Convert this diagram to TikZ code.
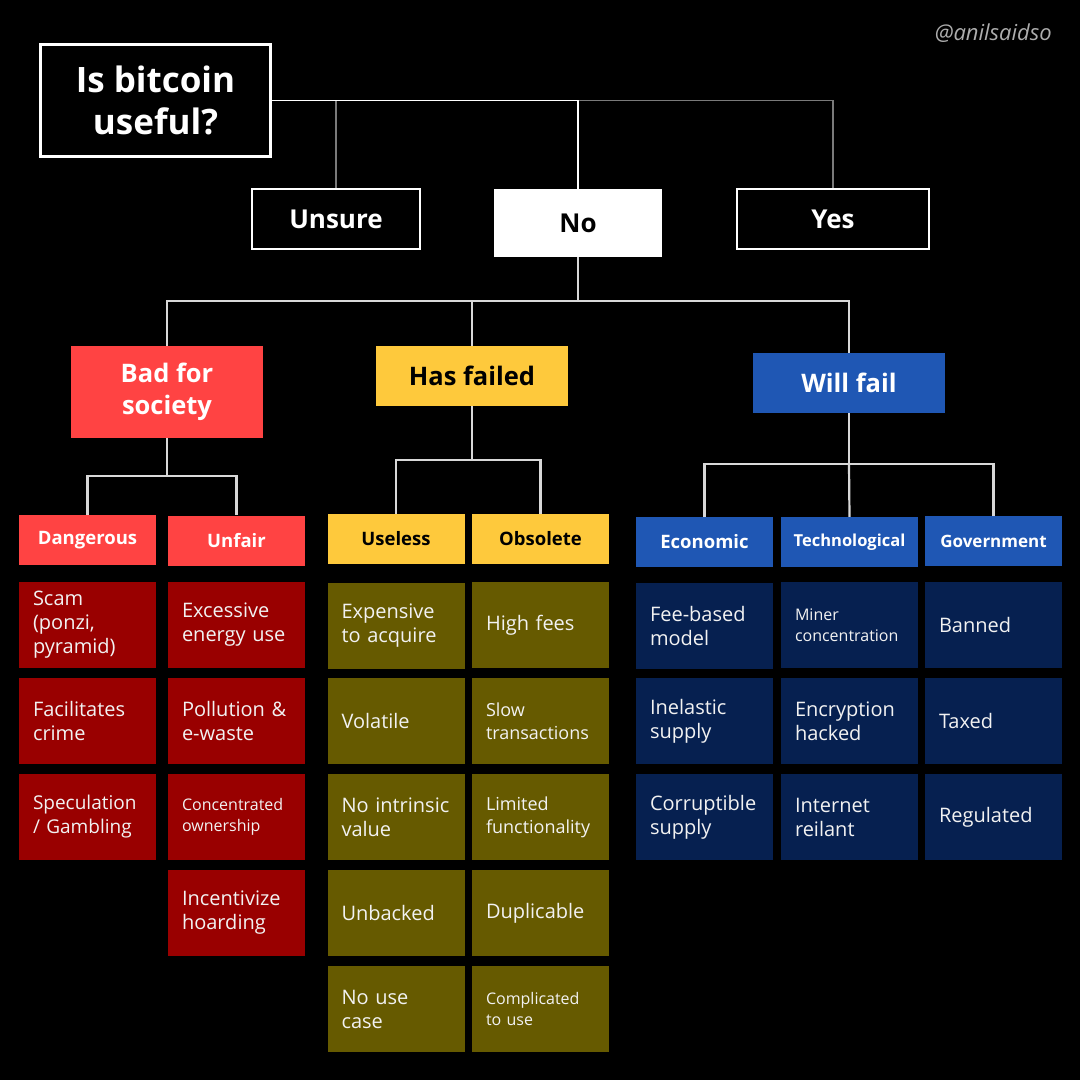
\documentclass[tikz,border=0pt]{standalone}
\usepackage{fontspec}
\setmainfont{Open Sans}
\definecolor{bred}{HTML}{FF4343}
\definecolor{dred}{HTML}{990000}
\definecolor{byel}{HTML}{FEC93C}
\definecolor{oliv}{HTML}{665A00}
\definecolor{bblue}{HTML}{1F57B4}
\definecolor{navy}{HTML}{062050}
\definecolor{tgray}{HTML}{7A7A7A}
\definecolor{lgray}{HTML}{D8D8D8}
\begin{document}
\begin{tikzpicture}[x=1pt,y=-1pt,
  every node/.style={inner sep=0pt},
  ans/.style={draw=white, line width=1.3pt, fill=black, text=white, font=\fontsize{26}{30}\selectfont\bfseries, minimum height=60pt},
  cat/.style={minimum width=192pt, font=\fontsize{25.5}{32}\selectfont\bfseries, align=center},
  sub/.style={minimum width=137pt, minimum height=50pt, font=\fontsize{18.5}{22}\selectfont\bfseries},
  leaf/.style={text width=109pt, inner xsep=14pt, inner ysep=0pt, minimum height=86pt, align=left, text=white!95!black, font=\fontsize{20}{24}\selectfont},
  small/.style={font=\fontsize{16}{21}\selectfont},
  topw/.style={draw=white, line width=1.3pt},
  topg/.style={draw=tgray, line width=1.3pt},
  conn/.style={draw=lgray, line width=2.2pt},
]
\fill[black] (0,0) rectangle (1080,1080);
\useasboundingbox (0,0) rectangle (1080,1080);

% watermark
\node[anchor=east, text=white!68!black, font=\fontsize{22}{26}\selectfont\itshape] (wm) at (1052,33) {@anilsaidso};

% title and answers
\node[draw=white, line width=3pt, minimum width=230pt, minimum height=112pt, text=white, align=center, font=\fontsize{35}{42}\selectfont\bfseries] (title) at (155.5,100.5) {Is bitcoin\\useful?};
\node[ans, minimum width=168pt] (unsure) at (336,219) {Unsure};
\node[fill=white, text=black, minimum width=168pt, minimum height=68pt, font=\fontsize{26}{30}\selectfont\bfseries] (no) at (578,223) {No};
\node[ans, minimum width=192pt] (yes) at (833,219) {Yes};

\coordinate (jU) at (336,100.5);
\coordinate (jT) at (578,100.5);
\draw[topg] (jU) -- (unsure.north);
\draw[topg] (jT) -| (yes.north);
\draw[topw] (title.east) -- (jT) -- (no.north);

% categories
\node[cat, fill=bred, text=white, minimum height=92pt] (bfs) at (167,392) {Bad for\\society};
\node[cat, fill=byel, text=black, minimum height=60pt] (hf) at (472,376) {Has failed};
\node[cat, fill=bblue, text=white, minimum height=60pt] (wf) at (849,383) {Will fail};

\coordinate (jN) at (578,301);
\draw[conn] (no.south) -- (jN) -| (bfs.north);
\draw[conn] (jN) -| (hf.north);
\draw[conn] (jN) -| (wf.north);

% sub categories
\node[sub, fill=bred, text=white] (dang) at (87.5,540) {Dangerous};
\node[sub, fill=bred, text=white] (unfair) at (236.5,540.5) {Unfair};
\node[sub, fill=byel, text=black] (useless) at (396,539) {Useless};
\node[sub, fill=byel, text=black] (obs) at (540.5,539) {Obsolete};
\node[sub, fill=bblue, text=white] (econ) at (704.5,542) {Economic};
\node[sub, fill=bblue, text=white, font=\fontsize{16.5}{20}\selectfont\bfseries] (tech) at (849.5,542) {Technological};
\node[sub, fill=bblue, text=white, font=\fontsize{17}{20}\selectfont\bfseries] (gov) at (993.5,541) {Government};

\coordinate (jB) at (167,476);
\coordinate (jH) at (472,460);
\coordinate (jW) at (849,464);
\draw[conn] (bfs.south) -- (jB) -| (dang.north);
\draw[conn] (jB) -| (unfair.north);
\draw[conn] (hf.south) -- (jH) -| (useless.north);
\draw[conn] (jH) -| (obs.north);
\draw[conn] (wf.south) -- (jW) -| (econ.north);
\draw[conn] (jW) -- (tech.north);
\draw[conn] (jW) -| (gov.north);

% leaves: Dangerous
\node[leaf, fill=dred] (d1) at (87.5,625) {Scam\\(ponzi,\\pyramid)};
\node[leaf, fill=dred] (d2) at (87.5,721) {Facilitates\\crime};
\node[leaf, fill=dred, font=\fontsize{19}{24}\selectfont] (d3) at (87.5,817) {Speculation\\/ Gambling};
% Unfair
\node[leaf, fill=dred] (u1) at (236.5,625) {Excessive\\energy use};
\node[leaf, fill=dred] (u2) at (236.5,721) {Pollution \&\\e-waste};
\node[leaf, fill=dred, small] (u3) at (236.5,817) {Concentrated\\ownership};
\node[leaf, fill=dred] (u4) at (236.5,913) {Incentivize\\hoarding};
% Useless
\node[leaf, fill=oliv] (s1) at (396,626) {Expensive\\to acquire};
\node[leaf, fill=oliv] (s2) at (396,721) {Volatile};
\node[leaf, fill=oliv] (s3) at (396,817) {No intrinsic\\value};
\node[leaf, fill=oliv] (s4) at (396,913) {Unbacked};
\node[leaf, fill=oliv] (s5) at (396,1009) {No use\\case};
% Obsolete
\node[leaf, fill=oliv] (o1) at (540.5,625) {High fees};
\node[leaf, fill=oliv, font=\fontsize{18}{23}\selectfont] (o2) at (540.5,721) {Slow\\transactions};
\node[leaf, fill=oliv, font=\fontsize{18}{23}\selectfont] (o3) at (540.5,817) {Limited\\functionality};
\node[leaf, fill=oliv] (o4) at (540.5,913) {Duplicable};
\node[leaf, fill=oliv, small] (o5) at (540.5,1009) {Complicated\\to use};
% Economic
\node[leaf, fill=navy] (e1) at (704.5,626) {Fee-based\\model};
\node[leaf, fill=navy] (e2) at (704.5,721) {Inelastic\\supply};
\node[leaf, fill=navy] (e3) at (704.5,817) {Corruptible\\supply};
% Technological
\node[leaf, fill=navy, small] (t1) at (849.5,625) {Miner\\concentration};
\node[leaf, fill=navy] (t2) at (849.5,721) {Encryption\\hacked};
\node[leaf, fill=navy] (t3) at (849.5,817) {Internet\\reilant};
% Government
\node[leaf, fill=navy] (g1) at (993.5,625) {Banned};
\node[leaf, fill=navy] (g2) at (993.5,721) {Taxed};
\node[leaf, fill=navy] (g3) at (993.5,817) {Regulated};
\end{tikzpicture}
\end{document}
